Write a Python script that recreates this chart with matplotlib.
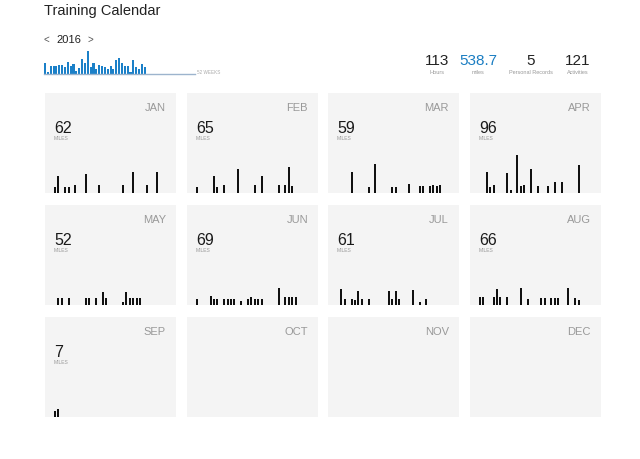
import numpy as np
import matplotlib
matplotlib.use("Agg")
import matplotlib.pyplot as plt

plt.rcParams['font.family'] = ['Liberation Sans', 'DejaVu Sans']

# Weekly mileage shown in the small blue chart at the top (36 of 52 weeks)
WEEKLY_MILES = [19, 4, 14, 14, 14, 15, 16, 12, 20, 13, 17, 5, 10, 25, 18, 38,
                12, 18, 9, 16, 14, 12, 9, 13, 9, 23, 27, 18, 14, 13, 4, 24,
                12, 9, 17, 12]

# Summary numbers
STAT_VALUES = ["113", "538.7", "5", "121"]
STAT_LABELS = ["Hours", "miles", "Personal Records", "Activities"]

MONTHS = ["JAN", "FEB", "MAR", "APR", "MAY", "JUN",
          "JUL", "AUG", "SEP", "OCT", "NOV", "DEC"]
MONTH_TOTALS = [62, 65, 59, 96, 52, 69, 61, 66, 7, None, None, None]

# Daily runs per month: day of month and miles
JAN_DAYS = [1, 2, 4, 5, 7, 10, 14, 21, 24, 28, 31]
JAN_MILES = [3, 8, 3, 3, 4, 9, 4, 4, 10, 4, 10]
FEB_DAYS = [1, 6, 7, 9, 13, 18, 20, 25, 27, 28, 29]
FEB_MILES = [3, 8, 3, 4, 11.5, 4, 8, 4, 4, 12.5, 3.3]
MAR_DAYS = [5, 10, 12, 17, 18, 22, 25, 26, 28, 29, 30, 31]
MAR_MILES = [10, 3, 14, 3, 3, 4.3, 3.4, 3.4, 3.4, 3.8, 3.4, 3.8]
APR_DAYS = [3, 4, 5, 9, 10, 12, 13, 14, 16, 18, 21, 23, 25, 30]
APR_MILES = [10, 3, 4, 9.6, 1.4, 18.2, 3.4, 3.8, 11.5, 3.4, 3.4, 5.3, 5.3, 13.4]
MAY_DAYS = [2, 3, 5, 10, 11, 13, 15, 16, 21, 22, 23, 24, 25, 26]
MAY_MILES = [3.4, 3.4, 3.4, 3.4, 3.4, 3.4, 6.3, 3.4, 1.5, 6.3, 3.4, 3.4, 3.4, 3.4]
JUN_DAYS = [1, 5, 6, 7, 9, 10, 11, 12, 14, 16, 17, 18, 19, 20, 25, 27, 28, 29, 30]
JUN_MILES = [3, 4.5, 3, 3, 3, 3, 3, 3, 2, 3, 4, 3, 3, 3, 8.3, 4, 4, 4, 4]
JUL_DAYS = [2, 3, 5, 6, 7, 8, 10, 16, 17, 18, 19, 23, 25, 27]
JUL_MILES = [7.8, 3, 3, 2.5, 6.5, 3, 3, 6.5, 3, 6.5, 3, 7, 1.5, 3]
AUG_DAYS = [1, 2, 5, 6, 7, 9, 13, 15, 19, 20, 22, 23, 24, 27, 29, 30]
AUG_MILES = [3.7, 3.7, 3.7, 7.5, 3.7, 3.7, 8, 2.8, 3.3, 3.3, 3.3, 3.3, 3.3, 8, 3.3, 2.3]
SEP_DAYS = [1, 2]
SEP_MILES = [3, 4]

ALL_DAYS = [JAN_DAYS, FEB_DAYS, MAR_DAYS, APR_DAYS, MAY_DAYS, JUN_DAYS,
            JUL_DAYS, AUG_DAYS, SEP_DAYS, [], [], []]
ALL_MILES = [JAN_MILES, FEB_MILES, MAR_MILES, APR_MILES, MAY_MILES, JUN_MILES,
             JUL_MILES, AUG_MILES, SEP_MILES, [], [], []]

W, H = 640, 459
FIG = plt.figure(figsize=(W / 100, H / 100), dpi=100, facecolor='white')


def px_axes(x, y, w, h):
    """Add an axes given in pixel coordinates measured from the top left"""
    ax = FIG.add_axes([x / W, 1 - (y + h) / H, w / W, h / H])
    return ax


def px_text(x, y, s, **kw):
    FIG.text(x / W, 1 - y / H, s, **kw)


def bare(ax):
    ax.set_xticks([])
    ax.set_yticks([])
    for sp in ax.spines.values():
        sp.set_visible(False)


# Header
px_text(44, 14.5, "Training Calendar", fontsize=10.5, color='#222222',
        va='baseline')
px_text(44, 43, "<", fontsize=7, color='#555555', va='baseline')
px_text(56, 43, "2016", fontsize=8, color='#222222', va='baseline')
px_text(88, 43, ">", fontsize=7, color='#555555', va='baseline')

# Weekly mileage chart
WEEK_STEP = 2.85
ax_w = px_axes(43.6, 44.3, 151.4, 30)
ax_w.patch.set_alpha(0)
ax_w.bar(np.arange(len(WEEKLY_MILES)), WEEKLY_MILES, width=0.72,
         color='#1b80c8', edgecolor='none')
ax_w.axhline(0, color='#9db4cd', lw=1.0, clip_on=False)
ax_w.set_xlim(-0.5, -0.5 + 151.4 / WEEK_STEP)
ax_w.set_ylim(0, 30 * 1.645)
bare(ax_w)
px_text(197, 74, "52 WEEKS", fontsize=3.3, color='#aaaaaa', va='baseline')

# Summary stats
STAT_X = [437, 478, 531, 578]
for i in range(len(STAT_VALUES)):
    color = '#1a7dc2' if i == 1 else '#222222'
    px_text(STAT_X[i], 65, STAT_VALUES[i], fontsize=11, color=color,
            ha='center', va='baseline')
    px_text(STAT_X[i], 74, STAT_LABELS[i], fontsize=4, color='#999999',
            ha='center', va='baseline')

# Month panels
PANEL_X = [45, 187, 328, 470]
PANEL_Y = [93, 205, 317]
PANEL_W, PANEL_H = 131, 100
DAY_STEP = 3.4
MILES_PER_PX = 0.48

for m in range(12):
    px = PANEL_X[m % 4]
    py = PANEL_Y[m // 4]
    ax_p = px_axes(px, py, PANEL_W, PANEL_H)
    ax_p.set_facecolor('#f4f4f4')
    bare(ax_p)

    px_text(px + 121, py + 17.7, MONTHS[m], fontsize=8, color='#999999',
            ha='right', va='baseline')
    if MONTH_TOTALS[m] is not None:
        px_text(px + 9, py + 39.7, str(MONTH_TOTALS[m]), fontsize=11.5,
                color='#1a1a1a', va='baseline')
        px_text(px + 9, py + 47.5, "MILES", fontsize=3.6, color='#999999',
                va='baseline')

    if len(ALL_DAYS[m]) > 0:
        ax_b = px_axes(px + 10 - DAY_STEP / 2, py + PANEL_H - 50,
                       31 * DAY_STEP, 50)
        ax_b.patch.set_alpha(0)
        ax_b.bar(ALL_DAYS[m], ALL_MILES[m], width=0.56, color='#111111',
                 edgecolor='none')
        ax_b.set_xlim(0.5, 31.5)
        ax_b.set_ylim(0, 50 * MILES_PER_PX)
        bare(ax_b)

FIG.savefig("out.png", dpi=100, facecolor='white')
